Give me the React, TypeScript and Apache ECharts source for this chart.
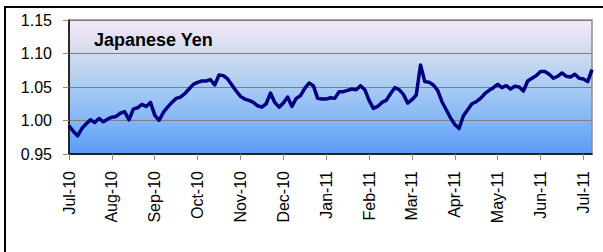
import React, { useEffect, useRef } from "react";
import * as echarts from "echarts";

const monthLabels = [
  "Jul-10", "Aug-10", "Sep-10", "Oct-10", "Nov-10", "Dec-10", "Jan-11",
  "Feb-11", "Mar-11", "Apr-11", "May-11", "Jun-11", "Jul-11",
];
const pointsPerMonth = 10;

const yenValues = [
  0.992, 0.984, 0.977, 0.988, 0.995, 1.001, 0.997, 1.003, 0.998, 1.002,
  1.005, 1.006, 1.011, 1.013, 1.001, 1.017, 1.019, 1.024, 1.021, 1.027,
  1.008, 1.000, 1.012, 1.020, 1.027, 1.033, 1.035, 1.040, 1.047, 1.054,
  1.057, 1.059, 1.059, 1.061, 1.053, 1.068, 1.067, 1.062, 1.053, 1.044,
  1.036, 1.032, 1.030, 1.027, 1.022, 1.020, 1.025, 1.041, 1.027, 1.020,
  1.026, 1.035, 1.021, 1.033, 1.037, 1.048, 1.056, 1.052, 1.033, 1.032,
  1.032, 1.034, 1.033, 1.043, 1.043, 1.045, 1.047, 1.046, 1.052, 1.046,
  1.030, 1.018, 1.021, 1.027, 1.030, 1.040, 1.049, 1.046, 1.039, 1.026,
  1.031, 1.038, 1.083, 1.058, 1.057, 1.053, 1.045, 1.028, 1.016, 1.004,
  0.994, 0.988, 1.007, 1.016, 1.025, 1.028, 1.033, 1.040, 1.045, 1.049,
  1.054, 1.049, 1.052, 1.047, 1.051, 1.050, 1.044, 1.059, 1.063, 1.067,
  1.073, 1.073, 1.069, 1.063, 1.066, 1.071, 1.066, 1.065, 1.069, 1.063,
  1.062, 1.058, 1.076,
];

const yMin = 0.95;
const yMax = 1.15;
const yStep = 0.05;
const title = "Japanese Yen";

export default function App() {
  const ref = useRef<HTMLDivElement>(null);
  useEffect(() => {
    if (!ref.current) return;
    const chart = echarts.init(ref.current, null, { renderer: "svg" });
    const categories = yenValues.map((_, i) =>
      i % pointsPerMonth === 0 ? monthLabels[i / pointsPerMonth] ?? "" : ""
    );
    const showEvery = (idx: number) => idx % pointsPerMonth === 0;
    chart.setOption({
      animation: false,
      backgroundColor: "#ffffff",
      grid: {
        left: 69,
        right: 11,
        top: 20,
        bottom: 98,
        show: true,
        borderColor: "#8c8c8c",
        borderWidth: 1.5,
        backgroundColor: new echarts.graphic.LinearGradient(0, 0, 0, 1, [
          { offset: 0, color: "#f7e6f5" },
          { offset: 0.25, color: "#cfdcee" },
          { offset: 0.5, color: "#a9cbf2" },
          { offset: 0.75, color: "#83b6f7" },
          { offset: 1, color: "#5a9af5" },
        ]),
      },
      xAxis: {
        type: "category",
        data: categories,
        boundaryGap: false,
        axisLine: { lineStyle: { color: "#000000", width: 1.5 } },
        axisTick: {
          show: true,
          interval: showEvery,
          length: 6,
          lineStyle: { color: "#8c8c8c", width: 1 },
        },
        axisLabel: {
          interval: showEvery,
          rotate: 90,
          margin: 17,
          color: "#000000",
          fontFamily: "Liberation Sans, Arial, sans-serif",
          fontSize: 16,
        },
        splitLine: { show: false },
      },
      yAxis: {
        type: "value",
        min: yMin,
        max: yMax,
        interval: yStep,
        axisLine: { show: true, lineStyle: { color: "#000000", width: 1.5 } },
        axisTick: {
          show: true,
          length: 6,
          lineStyle: { color: "#8c8c8c", width: 1 },
        },
        axisLabel: {
          margin: 17,
          color: "#000000",
          fontFamily: "Liberation Sans, Arial, sans-serif",
          fontSize: 16,
          formatter: (v: number) => v.toFixed(2),
        },
        splitLine: { show: true, lineStyle: { color: "#7f7f7f", width: 1 } },
      },
      series: [
        {
          type: "line",
          data: yenValues,
          showSymbol: false,
          symbol: "none",
          lineStyle: { color: "#000080", width: 3.5, join: "round" },
        },
      ],
      graphic: [
        {
          type: "rect",
          shape: { x: 5, y: 7, width: 800, height: 400 },
          style: { fill: "none", stroke: "#000000", lineWidth: 2 },
          silent: true,
          z: 100,
        },
        {
          type: "text",
          x: 94,
          y: 40,
          style: {
            text: title,
            fill: "#000000",
            font: "bold 18px 'Liberation Sans', Arial, sans-serif",
            verticalAlign: "middle",
            align: "left",
          },
          z: 100,
        },
      ],
    });
    return () => chart.dispose();
  }, []);
  return (
    <div
      ref={ref}
      style={{ position: "absolute", left: 0, top: 0, width: 603, height: 252 }}
    />
  );
}
